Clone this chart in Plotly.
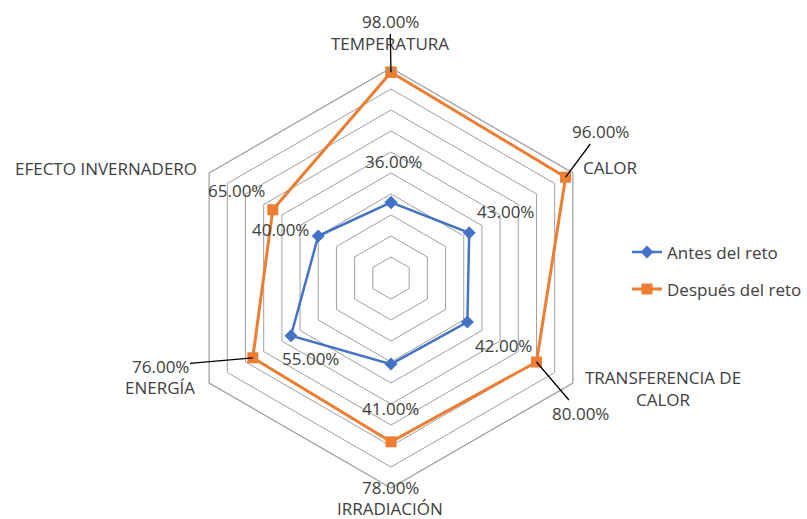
import math
import plotly.graph_objects as go

W, H = 807, 519

categories = ["TEMPERATURA", "CALOR", "TRANSFERENCIA DE CALOR", "IRRADIACIÓN", "ENERGÍA", "EFECTO INVERNADERO"]
antes = [0.36, 0.43, 0.42, 0.41, 0.55, 0.40]
despues = [0.98, 0.96, 0.80, 0.78, 0.76, 0.65]
series_names = ["Antes del reto", "Después del reto"]

BLUE = "#4472C4"
ORANGE = "#ED7D31"
GRID = "#A0A0A0"
TXT = "#404040"
FONT = "Open Sans"
FS = 17

# polar area (pixels): center and radius
CX, CY, R = 391, 278, 210
dom_x = [(CX - R) / W, (CX + R) / W]
dom_y = [1 - (CY + R) / H, 1 - (CY - R) / H]


def closed(v):
    return list(v) + [v[0]]


fig = go.Figure()
fig.add_trace(go.Scatterpolar(
    r=closed(antes), theta=closed(categories), name=series_names[0],
    mode="lines+markers", line=dict(color=BLUE, width=2.5),
    marker=dict(symbol="diamond", size=10, color=BLUE),
    legendgroup="a", cliponaxis=False, hoverinfo="skip",
))
fig.add_trace(go.Scatterpolar(
    r=closed(despues), theta=closed(categories), name=series_names[1],
    mode="lines+markers", line=dict(color=ORANGE, width=3),
    marker=dict(symbol="square", size=11, color=ORANGE),
    legendgroup="b", cliponaxis=False, hoverinfo="skip",
))


def px(x, y):
    return x / W, 1 - y / H


def marker_px(i, v):
    ang = math.radians(90 - 60 * i)
    return CX + R * v * math.cos(ang), CY - R * v * math.sin(ang)


def pct(v):
    return f"{v * 100:.2f}%"


def wrap(label):
    if len(label) > 20:
        head, tail = label.rsplit(" ", 1)
        return head + "<br>" + tail
    return label


annotations = []
font = dict(family=FONT, size=FS, color=TXT)

# category labels (pixel centers)
cat_pos = [(390, 43.5), (610, 167), (663, 388), (390, 508), (160, 387), (106, 168)]
for (x, y), t in zip(cat_pos, categories):
    xp, yp = px(x, y)
    annotations.append(dict(x=xp, y=yp, xref="paper", yref="paper", text=wrap(t), showarrow=False,
                            font=font, xanchor="center", yanchor="middle", align="center"))

# Antes labels
antes_pos = [(393, 162), (505, 212), (503, 345), (390, 408), (310, 358), (280, 229)]
for (x, y), v in zip(antes_pos, antes):
    xp, yp = px(x, y)
    annotations.append(dict(x=xp, y=yp, xref="paper", yref="paper", text=pct(v), showarrow=False,
                            font=font, xanchor="center", yanchor="middle"))

# Despues labels; some with leader lines
desp_pos = [(390, 21), (600, 131), (580, 413), (390, 487), (160, 366), (236, 190)]
leader = [True, True, True, False, True, False]
for i, ((x, y), v, ld) in enumerate(zip(desp_pos, despues, leader)):
    if ld:
        mx, my = marker_px(i, v)
        xp, yp = px(mx, my)
        annotations.append(dict(x=xp, y=yp, xref="paper", yref="paper", text=pct(v), showarrow=True,
                                arrowhead=0, arrowwidth=1.3, arrowcolor="#000000", ax=x - mx, ay=y - my,
                                standoff=0, font=font))
    else:
        xp, yp = px(x, y)
        annotations.append(dict(x=xp, y=yp, xref="paper", yref="paper", text=pct(v), showarrow=False,
                                font=font, xanchor="center", yanchor="middle"))

fig.update_layout(
    width=W, height=H,
    margin=dict(l=0, r=0, t=0, b=0),
    paper_bgcolor="white", plot_bgcolor="white",
    font=dict(family=FONT, size=FS, color=TXT),
    hovermode=False,
    polar=dict(
        domain=dict(x=dom_x, y=dom_y),
        gridshape="linear",
        bgcolor="white",
        radialaxis=dict(range=[0, 1], dtick=0.1, tick0=0, showticklabels=False, ticks="",
                        showline=False, gridcolor=GRID, gridwidth=1.3),
        angularaxis=dict(direction="clockwise", rotation=90, showticklabels=False, ticks="",
                         showgrid=False, showline=True, linecolor=GRID, linewidth=1.3),
    ),
    legend=dict(x=0.777, y=0.478, xanchor="left", yanchor="middle", traceorder="grouped",
                tracegroupgap=12, font=dict(family=FONT, size=FS, color=TXT),
                bgcolor="rgba(0,0,0,0)"),
    annotations=annotations,
)

fig.write_html("out.html", config={"displayModeBar": False},
               post_script="document.body.style.margin='0px';")
